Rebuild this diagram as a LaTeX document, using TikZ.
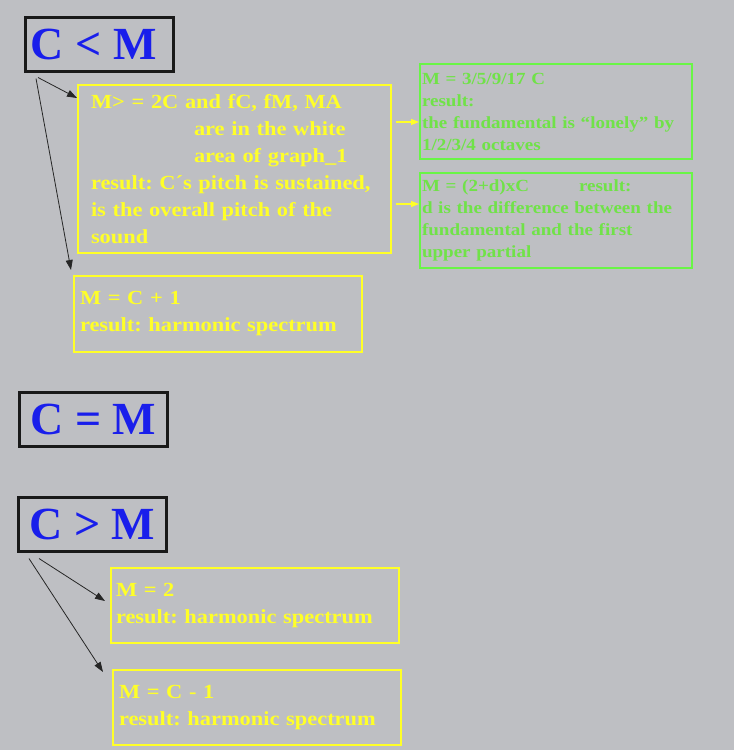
\documentclass[tikz,border=0pt]{standalone}
\usepackage{fontspec}
\setmainfont{Liberation Serif}
\newfontfamily\widefont{Liberation Serif}[FakeStretch=1.12]
\usetikzlibrary{arrows.meta,positioning}
\frenchspacing

\definecolor{slide}{RGB}{190,191,195}
\definecolor{condblue}{RGB}{25,30,235}
\definecolor{ylw}{RGB}{255,255,40}
\definecolor{grn}{RGB}{105,245,70}
\definecolor{grntext}{RGB}{112,226,72}

\begin{document}
\begin{tikzpicture}[x=1pt, y=-1pt,
    cond/.style={draw=black!90, line width=2.5pt, anchor=north west, minimum width=148pt, minimum height=54pt, inner sep=0pt, text=condblue, font=\fontsize{46}{50}\selectfont\bfseries},
    ybox/.style={draw=ylw, line width=2pt, anchor=north west, align=left, text=ylw, font=\widefont\bfseries\fontsize{20}{27}\selectfont},
    gbox/.style={draw=grn, line width=2pt, anchor=north west, align=left, text=grntext, text width=268pt, inner xsep=2pt, minimum height=95pt, font=\widefont\bfseries\fontsize{17}{22}\selectfont},
    arrow/.style={-{Triangle[length=10pt,width=7pt]}, black!85, line width=0.8pt},
    yarrow/.style={-{Triangle[length=8pt,width=6pt]}, ylw, line width=1.2pt}
]
\fill[slide] (0,0) rectangle (734,750);
\useasboundingbox (0,0) rectangle (734,750);

\node[cond] (less) at (24,16) {C < M\hspace*{11pt}};
\node[cond] (equal) at (18,391) {C = M};
\node[cond] (greater) at (17,496) {C > M};

\node[ybox, text width=287pt, inner xsep=13pt, minimum height=168pt] (more) at (77,84)
  {M> = 2C and fC, fM, MA\\
   \hspace*{103pt}are in the white\\
   \hspace*{103pt}area of graph\_1\\
   result: C´s pitch is sustained,\\
   is the overall pitch of the\\
   sound};
\node[ybox, text width=276pt, inner xsep=6pt, minimum height=76pt] (plus) at (73,275)
  {M = C + 1\\result: harmonic spectrum};
\node[ybox, text width=278pt, inner xsep=5pt, minimum height=75pt] (two) at (110,567)
  {M = 2\\result: harmonic spectrum};
\node[ybox, text width=276pt, inner xsep=6pt, minimum height=75pt] (minus) at (112,669)
  {M = C - 1\\result: harmonic spectrum};

\node[gbox] (octave) at (419,63)
  {M = 3/5/9/17 C\\result:\\the fundamental is “lonely” by\\1/2/3/4 octaves};
\node[gbox, below=12pt of octave] (partial)
  {\makebox[157pt][l]{M = (2+d)xC}result:\\d is the difference between the\\fundamental and the first\\upper partial};

\draw[arrow] ([shift={(14pt,-5pt)}]less.south west) -- ([yshift=-14pt]more.north west);
\draw[arrow] ([shift={(12pt,-6pt)}]less.south west) -- ([shift={(-2pt,5pt)}]plus.north west);
\draw[arrow] ([shift={(22pt,-6pt)}]greater.south west) -- ([shift={(-5pt,-34pt)}]two.north west);
\draw[arrow] ([shift={(12pt,-6pt)}]greater.south west) -- ([shift={(-9pt,-3pt)}]minus.north west);

\draw[yarrow] ([shift={(4pt,-38pt)}]more.north east) -- ([yshift=-59pt]octave.north west);
\draw[yarrow] ([shift={(4pt,-120pt)}]more.north east) -- ([yshift=-32pt]partial.north west);
\end{tikzpicture}
\end{document}
